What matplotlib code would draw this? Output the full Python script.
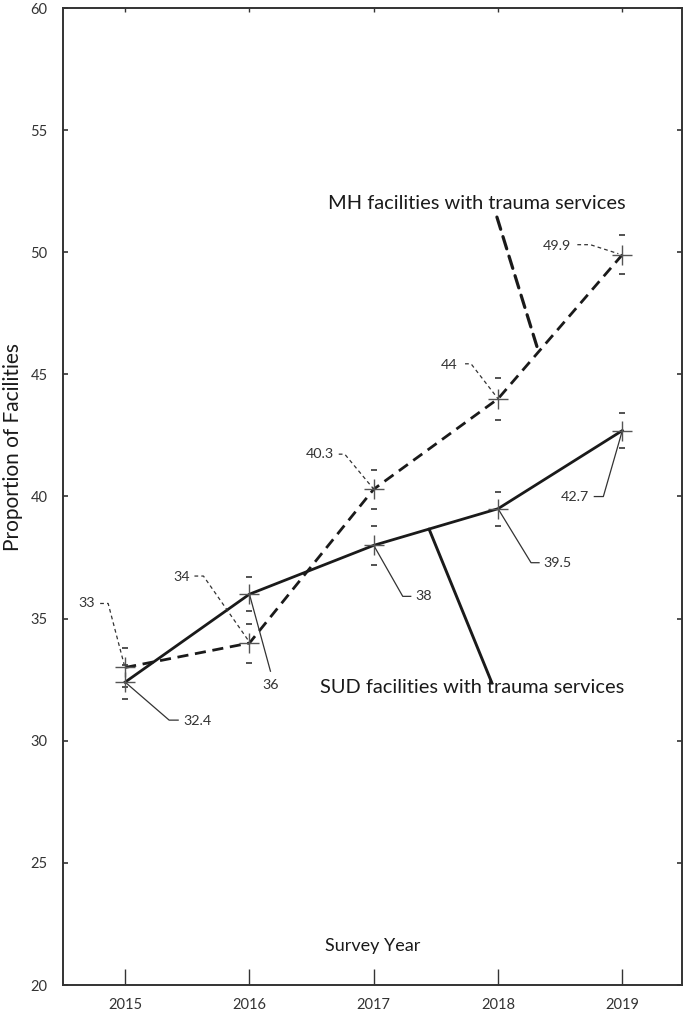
import matplotlib
matplotlib.use('Agg')
import matplotlib.pyplot as plt
import numpy as np

years = [2015, 2016, 2017, 2018, 2019]
mh_values = [33.0, 34.0, 40.3, 44.0, 49.9]
mh_err = [0.8, 0.8, 0.8, 0.85, 0.8]
sud_values = [32.4, 36.0, 38.0, 39.5, 42.7]
sud_err = [0.7, 0.7, 0.8, 0.7, 0.7]
mh_labels = ['33', '34', '40.3', '44', '49.9']
sud_labels = ['32.4', '36', '38', '39.5', '42.7']
y_ticks = [20, 25, 30, 35, 40, 45, 50, 55, 60]
mh_name = 'MH facilities with trauma services'
sud_name = 'SUD facilities with trauma services'

plt.rcParams['font.family'] = ['Lato', 'DejaVu Sans']
DARK = '#1a1a1a'
GRAY = '#555555'
TXT = '#333333'

fig = plt.figure(figsize=(6.85, 10.13), dpi=100)
W, H = 685, 1013
ax = fig.add_axes([63 / W, 1 - 985 / H, (682 - 63) / W, (985 - 8) / H])
ax.set_xlim(2014.5, 2019.48)
ax.set_ylim(20, 60)

for s in ax.spines.values():
    s.set_linewidth(1.4)
    s.set_color('#333333')

ax.set_xticks(years)
ax.set_xticklabels([str(y) for y in years])
ax.set_yticks(y_ticks)
ax.tick_params(axis='x', direction='in', length=11.5, width=1, color='#333333',
               labelsize=10.5, pad=9, labelcolor=TXT)
ax.tick_params(axis='y', direction='in', length=3.6, width=1.2, color='#333333',
               labelsize=10.5, pad=11, labelcolor=TXT, right=True)
sec = ax.secondary_xaxis('top')
sec.set_xticks(years)
sec.tick_params(direction='in', length=3, width=1, labeltop=False, color='#333333')
sec.spines['top'].set_visible(False)

# main lines
ax.plot(years, sud_values, color=DARK, lw=2.0, zorder=2)
ax.plot(years, mh_values, color=DARK, lw=2.0, dashes=(4, 2.4), zorder=2)

# markers and error caps
for vals, err in [(mh_values, mh_err), (sud_values, sud_err)]:
    v = np.array(vals)
    e = np.array(err)
    ax.plot(years, v, ls='none', marker='+', ms=14, mew=1.0, color=GRAY, zorder=3)
    ax.plot(years, v + e, ls='none', marker='_', ms=5, mew=1.3, color='#444444', zorder=3)
    ax.plot(years, v - e, ls='none', marker='_', ms=5, mew=1.3, color='#444444', zorder=3)

fig.canvas.draw()


def P(x, y, dx, dy):
    d = ax.transData.transform((x, y))
    return ax.transData.inverted().transform((d[0] + dx, d[1] - dy))


# label layout: (text offset, ha, leader path offsets) in pixels relative to point
mh_layout = [
    ((-30, -64), 'right', [(-25, -64), (-17, -64), (-1, -3)]),
    ((-59, -66), 'right', [(-55, -67), (-46, -67), (0, -1)]),
    ((-40, -35), 'right', [(-35, -35), (-29, -35), (0, 0)]),
    ((-40, -34), 'right', [(-33, -35), (-27, -35), (0, 0)]),
    ((-51, -9), 'right', [(-45, -10), (-32, -10), (-4, -1)]),
]
sud_layout = [
    ((58, 39), 'left', [(0, 0), (44, 38), (53, 38)]),
    ((21, 91), 'center', [(0, 0), (21, 77)]),
    ((42, 51), 'left', [(0, 0), (29, 51), (37, 51)]),
    ((45, 54), 'left', [(0, 0), (33, 54), (41, 54)]),
    ((-33, 66), 'right', [(0, 0), (-19, 66), (-28, 66)]),
]

for vals, labels, layout, dashed in [(mh_values, mh_labels, mh_layout, True),
                                     (sud_values, sud_labels, sud_layout, False)]:
    for x, v, lab, (toff, ha, path) in zip(years, vals, labels, layout):
        pts = np.array([P(x, v, dx, dy) for dx, dy in path])
        kw = dict(dashes=(3, 2.5)) if dashed else {}
        ax.plot(pts[:, 0], pts[:, 1], color='#333333', lw=0.9, zorder=2.5, **kw)
        tx, ty = P(x, v, *toff)
        ax.text(tx, ty, lab, ha=ha, va='center', fontsize=10.3, color=TXT)

# series labels with leaders
t_mh = 0.326
mx = years[3] + t_mh * (years[4] - years[3])
my = mh_values[3] + t_mh * (mh_values[4] - mh_values[3])
ax.text(0.669, 0.800, mh_name, transform=ax.transAxes, ha='center', va='center',
        fontsize=14.4, color=DARK)
ax.annotate('', xy=(mx, my), xytext=(0.701, 0.786), textcoords='axes fraction',
            arrowprops=dict(arrowstyle='-', lw=2.3, color=DARK, linestyle=(0, (4, 2.4)),
                            shrinkA=0, shrinkB=0))

t_sud = 0.445
sx = years[2] + t_sud * (years[3] - years[2])
sy = sud_values[2] + t_sud * (sud_values[3] - sud_values[2])
ax.text(0.661, 0.304, sud_name, transform=ax.transAxes, ha='center', va='center',
        fontsize=14.4, color=DARK)
ax.annotate('', xy=(sx, sy), xytext=(0.693, 0.309), textcoords='axes fraction',
            arrowprops=dict(arrowstyle='-', lw=2.1, color=DARK,
                            shrinkA=0, shrinkB=0))

ax.text(0.5008, 0.04, 'Survey Year', transform=ax.transAxes, ha='center', va='center',
        fontsize=13, color=DARK)
fig.text(13 / W, 1 - 447 / H, 'Proportion of Facilities', rotation=90,
         ha='center', va='center', fontsize=15, color=DARK)

fig.savefig('out.png', dpi=100)
